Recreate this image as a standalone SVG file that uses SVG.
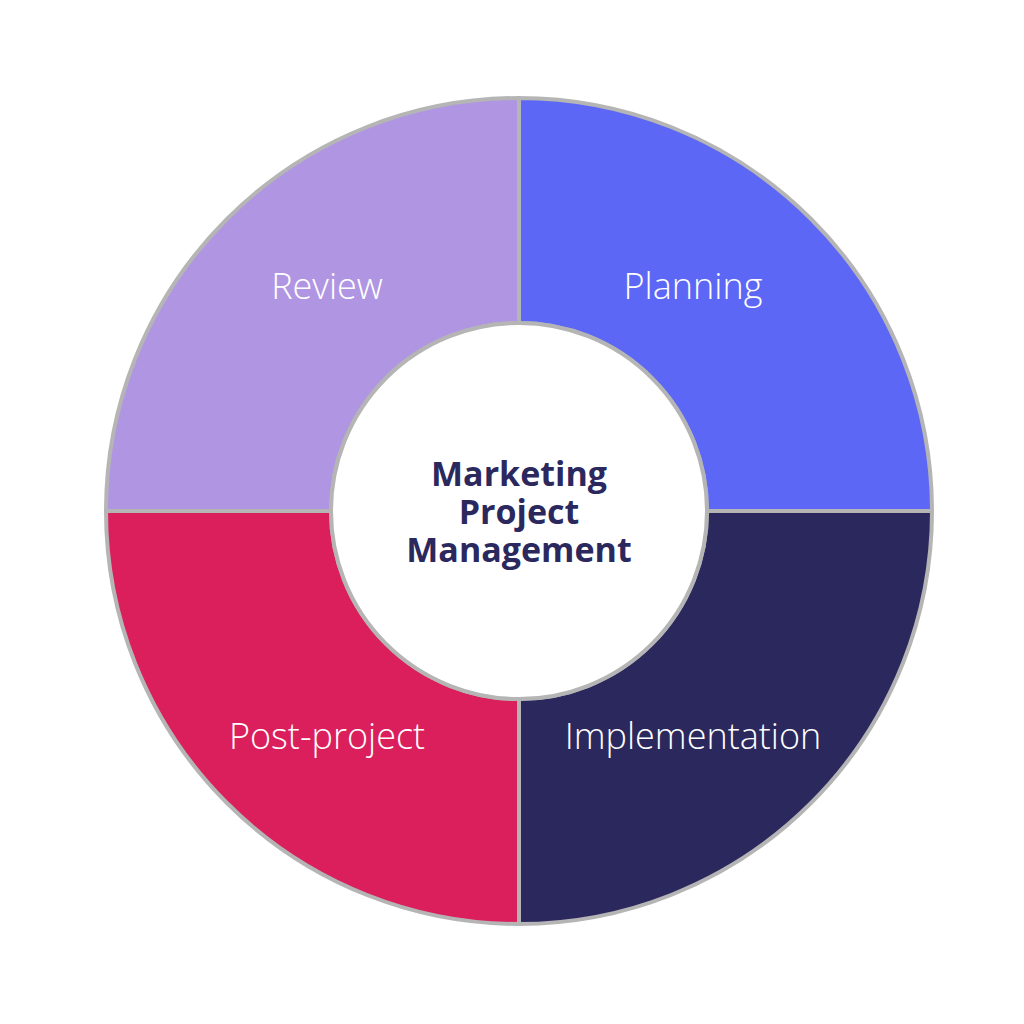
<svg xmlns="http://www.w3.org/2000/svg" width="1024" height="1024" viewBox="0 0 1024 1024">
<style>
.seg{stroke:#B5B5B5;stroke-width:4;stroke-linejoin:round}
.lbl{font-family:"Open Sans",Lato,sans-serif;font-size:36px;fill:#FFFFFF;text-anchor:middle;font-weight:300;font-variant-ligatures:none}
.ctr{font-family:"Open Sans",Lato,sans-serif;font-size:34px;fill:#2B285E;text-anchor:middle;font-weight:700;font-variant-ligatures:none}
</style>
<rect width="1024" height="1024" fill="#FFFFFF"/>
<g id="review">
<path class="seg" fill="#B096E2" d="M 106 511 A 413 413 0 0 1 519 98 L 519 323 A 188 188 0 0 0 331 511 Z"/>
<text class="lbl" x="327" y="299">Review</text>
</g>
<g id="planning">
<path class="seg" fill="#5C67F5" d="M 519 98 A 413 413 0 0 1 932 511 L 707 511 A 188 188 0 0 0 519 323 Z"/>
<text class="lbl" x="693" y="299">Planning</text>
</g>
<g id="implementation">
<path class="seg" fill="#2B285E" d="M 932 511 A 413 413 0 0 1 519 924 L 519 699 A 188 188 0 0 0 707 511 Z"/>
<text class="lbl" x="693" y="749">Implementation</text>
</g>
<g id="post-project">
<path class="seg" fill="#DA1F5C" d="M 519 924 A 413 413 0 0 1 106 511 L 331 511 A 188 188 0 0 0 519 699 Z"/>
<text class="lbl" x="327" y="749">Post-project</text>
</g>
<g id="center">
<circle cx="519" cy="511" r="188" fill="#FFFFFF" stroke="#B5B5B5" stroke-width="4"/>
<text class="ctr" x="519" y="486"><tspan x="519" y="486">Marketing</tspan><tspan x="519" y="524">Project</tspan><tspan x="519" y="562">Management</tspan></text>
</g>
<g id="connectors"/>
</svg>
